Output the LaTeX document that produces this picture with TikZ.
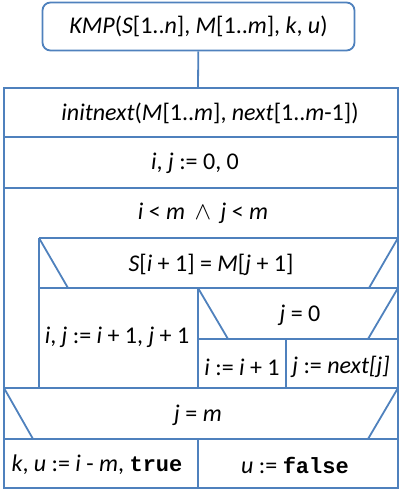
\documentclass[tikz,border=0pt]{standalone}
\usepackage{fontspec}
\setmainfont{Carlito}
\setmonofont{Liberation Mono}
\usepackage{tikz}
\usetikzlibrary{calc,positioning}
\definecolor{nsblue}{RGB}{79,129,189}
\tikzset{
    frame/.style={
    draw=nsblue,line width=1.8pt
    },
    header/.style={
    rectangle,rounded corners=8pt,draw=nsblue,line width=1.8pt,minimum width=312pt,minimum height=48pt
    },
    txt/.style={inner sep=0pt,font=\fontsize{24}{28}\selectfont},
}
\newcommand{\var}[1]{\textit{#1}}
\newcommand{\kw}[1]{{\fontsize{22}{26}\selectfont\textbf{\texttt{#1}}}}
\begin{document}
\begin{tikzpicture}[x=1pt,y=-1pt]
   \useasboundingbox (0,0) rectangle (403,492);

   \node[header,txt] (kmp) at (198.5,26.5) {\var{KMP}(\var{S}[1..\var{n}], \var{M}[1..\var{m}], \var{k}, \var{u})};
   \coordinate (top) at (198,88);
   \path[frame] (kmp) edge (top);

   % outer frame and rows
   \draw[frame] (4,88) rectangle (398,488);
   \draw[frame] (4,137) -- (398,137)
                (4,188) -- (398,188)
                (39,238) -- (398,238)
                (39,288) -- (398,288)
                (198,339) -- (398,339)
                (4,388) -- (398,388)
                (4,439) -- (398,439);
   \draw[frame] (39,238) -- (39,388)
                (198,288) -- (198,388)
                (286,339) -- (286,388)
                (198,439) -- (198,488);
   % condition slants
   \draw[frame] (39,238) -- (68,288)   (398,238) -- (369,288)
                (198,288) -- (228,339) (398,288) -- (368,339)
                (4,388) -- (33,439)    (398,388) -- (368,439);

   \node[txt] (init)  at (210,113) {\var{initnext}(\var{M}[1..\var{m}], \var{next}[1..\var{m}-1])};
   \node[txt] (zero)  at (195,163) {\var{i}, \var{j} := 0, 0};
   \node[txt] (loop)  at (203,213) {\var{i} < \var{m} \,$\wedge$\, \var{j} < \var{m}};
   \node[txt] (cmp)   at (211,265) {\var{S}[\var{i} + 1] = \var{M}[\var{j} + 1]};
   \node[txt] (inc)   at (117,337) {\var{i}, \var{j} := \var{i} + 1, \var{j} + 1};
   \node[txt] (jz)    at (300,315) {\var{j} = 0};
   \node[txt] (inci)  at (242,367) {\var{i} := \var{i} + 1};
   \node[txt] (nxt)   at (341,367) {\var{j} := \var{next[j]}};
   \node[txt] (jm)    at (198,415) {\var{j} = \var{m}};
   \node[txt] (found) at (97,465)  {\var{k}, \var{u} := \var{i} - \var{m}, \kw{true}};
   \node[txt] (fail)  at (295,465) {\var{u} := \kw{false}};
\end{tikzpicture}
\end{document}
